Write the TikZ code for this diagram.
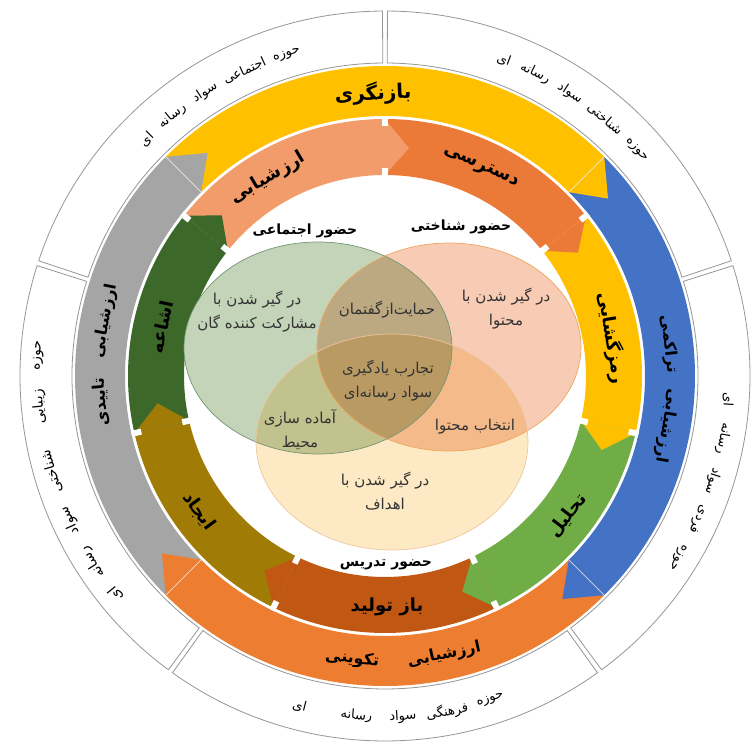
\documentclass[tikz,border=0pt]{standalone}
\usepackage{fontspec}
\newfontfamily\arabicfont[Script=Arabic]{DejaVu Sans}
\TeXXeTstate=1

\definecolor{ringline}{RGB}{150,150,150}
\definecolor{bandyellow}{RGB}{255,192,0}
\definecolor{bandblue}{RGB}{68,114,196}
\definecolor{bandorange}{RGB}{237,125,49}
\definecolor{bandgray}{RGB}{165,165,165}
\definecolor{cyceval}{RGB}{241,156,106}
\definecolor{cycaccess}{RGB}{235,122,56}
\definecolor{cycdecode}{RGB}{255,192,0}
\definecolor{cycanalyse}{RGB}{112,173,71}
\definecolor{cycrepro}{RGB}{192,88,20}
\definecolor{cyccreate}{RGB}{160,124,6}
\definecolor{cycspread}{RGB}{60,104,42}
\definecolor{venngreen}{RGB}{195,212,184}
\definecolor{vennsalmon}{RGB}{247,203,180}
\definecolor{vennyellow}{RGB}{253,234,196}

\begin{document}
\begin{tikzpicture}[x=1pt, y=1pt,
    ringword/.style={font=\arabicfont\fontsize{13}{15}\selectfont, inner sep=0pt},
    bandlabel/.style={font=\arabicfont\bfseries\fontsize{16}{18}\selectfont, inner sep=0pt},
    arclabel/.style={font=\arabicfont\bfseries\fontsize{18}{20}\selectfont, inner sep=0pt},
    setlabel/.style={font=\arabicfont\bfseries\fontsize{14}{16}\selectfont, inner sep=1pt},
    venntext/.style={font=\arabicfont\fontsize{15}{24}\selectfont, align=center, text=black!80, inner sep=1pt}]
    \useasboundingbox (-385,-368) rectangle (367,376);
    % ring of the five domains
    \foreach \a in {18,90,162,234,306}
        \draw[ringline, line width=0.8pt, fill=white] (\a+0.4:365) arc[start angle=\a+0.4, end angle=\a+71.6, radius=365] -- (\a+71.6:313) arc[start angle=\a+71.6, end angle=\a+0.4, radius=313] -- cycle;
    \foreach \w/\a [count=\i] in {حوزه/107, اجتماعی/114.7, سواد/122.4, رسانه/129.3, ای/135.2}
        \node[ringword, rotate=\a-90] (social\i) at (\a:336) {\beginR\w\endR};
    \foreach \w/\a [count=\i] in {حوزه/42, شناختی/49.4, سواد/56.8, رسانه/63.6, ای/69.4}
        \node[ringword, rotate=\a-90] (cogn\i) at (\a:338) {\beginR\w\endR};
    \foreach \w/\a [count=\i] in {حوزه/176.6, زیبایی/185.1, شناختی/196, سواد/204.6, رسانه/212.5, ای/219}
        \node[ringword, font=\arabicfont\fontsize{14}{16}\selectfont, rotate=\a-90] (aesth\i) at (\a:347) {\beginR\w\endR};
    \foreach \w/\a [count=\i] in {حوزه/-31.7, فردی/-24.6, سواد/-17.8, رسانه/-10.5, ای/-4}
        \node[ringword, rotate=\a-90] (indiv\i) at (\a:344) {\beginR\w\endR};
    \foreach \w/\a [count=\i] in {حوزه/-72, فرهنگی/-79.5, سواد/-87, رسانه/-94.8, ای/-104.5}
        \node[ringword, rotate=\a+90] (cult\i) at (\a:341) {\beginR\w\endR};

    % ring of the four evaluations
    \foreach \s/\c in {135/bandyellow, 45/bandblue, -45/bandorange, -135/bandgray}
        \fill[\c] (\s:310) arc[start angle=\s, end angle=\s-90, radius=310] -- (\s-90:260) arc[start angle=\s-90, end angle=\s, radius=260] -- cycle;
    \foreach \s/\c in {135/bandyellow, 45/bandblue, -45/bandorange, -135/bandgray} {
        \fill[\c] (\s-90:310) -- (\s-96.5:285) -- (\s-90:260) -- cycle;
        \draw[white, opacity=0.6, line width=0.8pt] (\s-90:260) -- (\s-90:310);
    }
    \node[bandlabel, font=\arabicfont\bfseries\fontsize{20}{22}\selectfont, rotate=2.4] (review) at (92.4:283) {\beginR بازنگری\endR};
    \node[bandlabel, rotate=-100] (summA) at (-10:286) {\beginR ارزشیابی\endR};
    \node[bandlabel, rotate=-83.6] (summB) at (6.4:286) {\beginR تراکمی\endR};
    \node[bandlabel, rotate=12] (formA) at (-78:285) {\beginR ارزشیابی\endR};
    \node[bandlabel, rotate=-6.6] (formB) at (-96.6:285) {\beginR تکوینی\endR};
    \node[bandlabel, rotate=78.9] (confA) at (168.9:285) {\beginR ارزشیابی\endR};
    \node[bandlabel, rotate=95.2] (confB) at (185.2:285) {\beginR تاییدی\endR};

    % cycle of the seven steps
    \foreach \c [count=\i from 0] in {cyceval, cycaccess, cycdecode, cycanalyse, cycrepro, cyccreate, cycspread} {
        \pgfmathsetmacro\e{90-\i*360/7}
        \fill[\c] (\e+360/7:257) arc[start angle=\e+360/7, end angle=\e, radius=257] -- (\e:201) arc[start angle=\e, end angle=\e+360/7, radius=201] -- cycle;
    }
    \foreach \c [count=\i from 0] in {cyceval, cycaccess, cycdecode, cycanalyse, cycrepro, cyccreate, cycspread} {
        \pgfmathsetmacro\e{90-\i*360/7}
        \fill[\c] (\e:257) -- (\e-6:229) -- (\e:201) -- cycle;
        \draw[white, line width=6pt] (\e:198) -- (\e:208) (\e:250) -- (\e:260);
    }
    \node[arclabel, rotate=30.6] (eval) at (120.6:230) {\beginR ارزشیابی\endR};
    \node[arclabel, rotate=-24.7] (access) at (65.3:230) {\beginR دسترسی\endR};
    \node[arclabel, rotate=-80.5] (decode) at (9.5:230) {\beginR رمزگشایی\endR};
    \node[arclabel, rotate=52.6] (analyse) at (-37.4:230) {\beginR تحلیل\endR};
    \node[arclabel, rotate=0.5] (repro) at (-89.5:231) {\beginR باز تولید\endR};
    \node[arclabel, rotate=-54] (create) at (-144:230) {\beginR ایجاد\endR};
    \node[arclabel, rotate=77.6] (spread) at (167.6:229) {\beginR اشاعه\endR};

    % the three presences
    \begin{scope}[blend group=multiply]
        \fill[venngreen] (-67,28) ellipse[x radius=134, y radius=106];
        \fill[vennsalmon] (64,29) ellipse[x radius=132, y radius=104];
        \fill[vennyellow] (7,-66) ellipse[x radius=136, y radius=108];
    \end{scope}
    \draw[green!25!black!55, line width=0.7pt] (-67,28) ellipse[x radius=134, y radius=106];
    \draw[orange!60!brown!70, line width=0.7pt] (64,29) ellipse[x radius=132, y radius=104];
    \draw[orange!40!brown!45, line width=0.7pt] (7,-66) ellipse[x radius=136, y radius=108];
    \node[setlabel] (social) at (-80,145) {\beginR حضور اجتماعی\endR};
    \node[setlabel] (cognitive) at (76,149) {\beginR حضور شناختی\endR};
    \node[setlabel] (teaching) at (1,-189) {\beginR حضور تدریس\endR};
    \node[venntext] (partic) at (-128,64) {\beginR در گیر شدن با\endR\\\beginR مشارکت کننده گان\endR};
    \node[venntext] (discourse) at (2,66) {\beginR حمایت‌ازگفتمان\endR};
    \node[venntext] (content) at (121,67) {\beginR در گیر شدن با\endR\\\beginR محتوا\endR};
    \node[venntext] (core) at (3,-5) {\beginR تجارب یادگیری\endR\\\beginR سواد رسانه‌ای\endR};
    \node[venntext] (climate) at (-85,-54) {\beginR آماده سازی\endR\\\beginR محیط\endR};
    \node[venntext] (select) at (90,-51) {\beginR انتخاب محتوا\endR};
    \node[venntext] (goals) at (0,-115) {\beginR در گیر شدن با\endR\\\beginR اهداف\endR};
\end{tikzpicture}
\end{document}
